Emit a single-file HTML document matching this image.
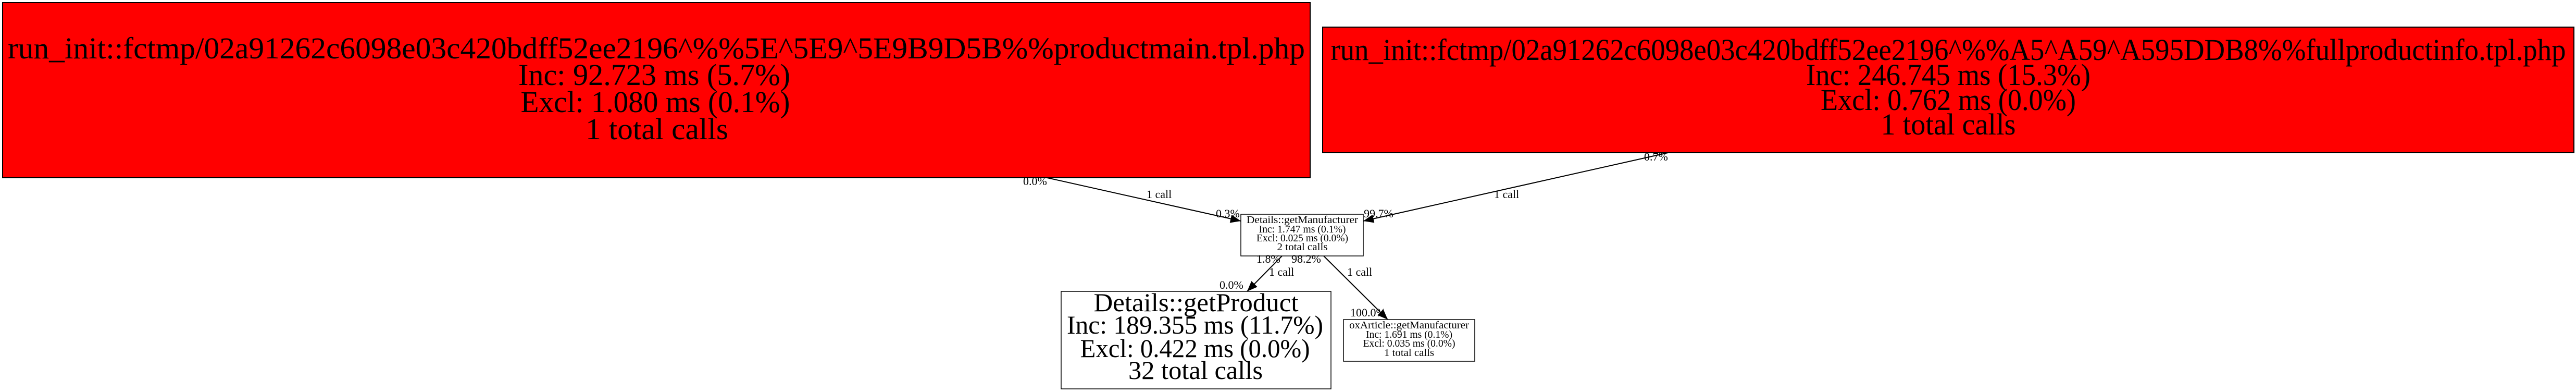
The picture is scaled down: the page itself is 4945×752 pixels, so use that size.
<!DOCTYPE html>
<html><head><meta charset="utf-8"><style>
html,body{margin:0;padding:0;background:#fff;}
svg{display:block;}
text{font-family:"Liberation Serif",serif;fill:#000;}
</style></head><body>
<svg width="4945" height="752" viewBox="0 0 4945 752" xmlns="http://www.w3.org/2000/svg">
<defs>
<marker id="b" viewBox="0 0 10 8" markerWidth="22" markerHeight="16" refX="10" refY="4" orient="auto" markerUnits="userSpaceOnUse"><path d="M0,0 L10,4 L0,8 z" fill="#000"/></marker></defs>
<rect x="5" y="5" width="2510" height="336" fill="#ff0000" stroke="#000" stroke-width="2"/>
<g font-size="58" text-anchor="middle">
<text x="1260" y="112" textLength="2490" lengthAdjust="spacingAndGlyphs">run_init::fctmp/02a91262c6098e03c420bdff52ee2196^%%5E^5E9^5E9B9D5B%%productmain.tpl.php</text>
<text x="1256" y="163" textLength="522" lengthAdjust="spacingAndGlyphs">Inc: 92.723 ms (5.7%)</text>
<text x="1258" y="215" textLength="517" lengthAdjust="spacingAndGlyphs">Excl: 1.080 ms (0.1%)</text>
<text x="1261" y="267" textLength="274" lengthAdjust="spacingAndGlyphs">1 total calls</text>
</g>
<rect x="2539" y="52" width="2402" height="241" fill="#ff0000" stroke="#000" stroke-width="2"/>
<g font-size="58" text-anchor="middle">
<text x="3740" y="115" textLength="2371" lengthAdjust="spacingAndGlyphs">run_init::fctmp/02a91262c6098e03c420bdff52ee2196^%%A5^A59^A595DDB8%%fullproductinfo.tpl.php</text>
<text x="3740" y="163" textLength="546" lengthAdjust="spacingAndGlyphs">Inc: 246.745 ms (15.3%)</text>
<text x="3740" y="211" textLength="490" lengthAdjust="spacingAndGlyphs">Excl: 0.762 ms (0.0%)</text>
<text x="3740" y="258" textLength="259" lengthAdjust="spacingAndGlyphs">1 total calls</text>
</g>
<rect x="2382" y="411" width="235" height="80" fill="#fff" stroke="#000" stroke-width="1.5"/>
<g font-size="20" text-anchor="middle">
<text x="2500" y="428" textLength="214" lengthAdjust="spacingAndGlyphs">Details::getManufacturer</text>
<text x="2500" y="446" textLength="167" lengthAdjust="spacingAndGlyphs">Inc: 1.747 ms (0.1%)</text>
<text x="2500" y="463" textLength="176" lengthAdjust="spacingAndGlyphs">Excl: 0.025 ms (0.0%)</text>
<text x="2500" y="480" textLength="97" lengthAdjust="spacingAndGlyphs">2 total calls</text>
</g>
<rect x="2037" y="559" width="518" height="187" fill="#fff" stroke="#000" stroke-width="1.5"/>
<g font-size="50" text-anchor="middle">
<text x="2296" y="597" textLength="393" lengthAdjust="spacingAndGlyphs">Details::getProduct</text>
<text x="2294" y="640" textLength="492" lengthAdjust="spacingAndGlyphs">Inc: 189.355 ms (11.7%)</text>
<text x="2294" y="685" textLength="441" lengthAdjust="spacingAndGlyphs">Excl: 0.422 ms (0.0%)</text>
<text x="2295" y="727" textLength="258" lengthAdjust="spacingAndGlyphs">32 total calls</text>
</g>
<rect x="2579" y="613" width="252" height="80" fill="#fff" stroke="#000" stroke-width="1.5"/>
<g font-size="20" text-anchor="middle">
<text x="2705" y="630" textLength="230" lengthAdjust="spacingAndGlyphs">oxArticle::getManufacturer</text>
<text x="2705" y="648" textLength="166" lengthAdjust="spacingAndGlyphs">Inc: 1.691 ms (0.1%)</text>
<text x="2705" y="665" textLength="177" lengthAdjust="spacingAndGlyphs">Excl: 0.035 ms (0.0%)</text>
<text x="2705" y="683" textLength="96" lengthAdjust="spacingAndGlyphs">1 total calls</text>
</g>
<g stroke="#000" stroke-width="2" fill="none">
<line x1="2010" y1="341" x2="2382" y2="424" marker-end="url(#b)"/>
<line x1="3202" y1="293" x2="2617" y2="424" marker-end="url(#b)"/>
<line x1="2461" y1="491" x2="2394" y2="559" marker-end="url(#b)"/>
<line x1="2541" y1="491" x2="2664" y2="613" marker-end="url(#b)"/>
</g>
<g font-size="22">
<text x="1964" y="355">0.0%</text>
<text x="2201" y="380">1 call</text>
<text x="2334" y="417">0.3%</text>
<text x="3156" y="308">0.7%</text>
<text x="2868" y="380">1 call</text>
<text x="2618" y="417">99.7%</text>
<text x="2412" y="504">1.8%</text>
<text x="2436" y="529">1 call</text>
<text x="2341" y="554">0.0%</text>
<text x="2479" y="504">98.2%</text>
<text x="2586" y="529">1 call</text>
<text x="2592" y="607">100.0%</text>
</g>
</svg>
</body></html>
